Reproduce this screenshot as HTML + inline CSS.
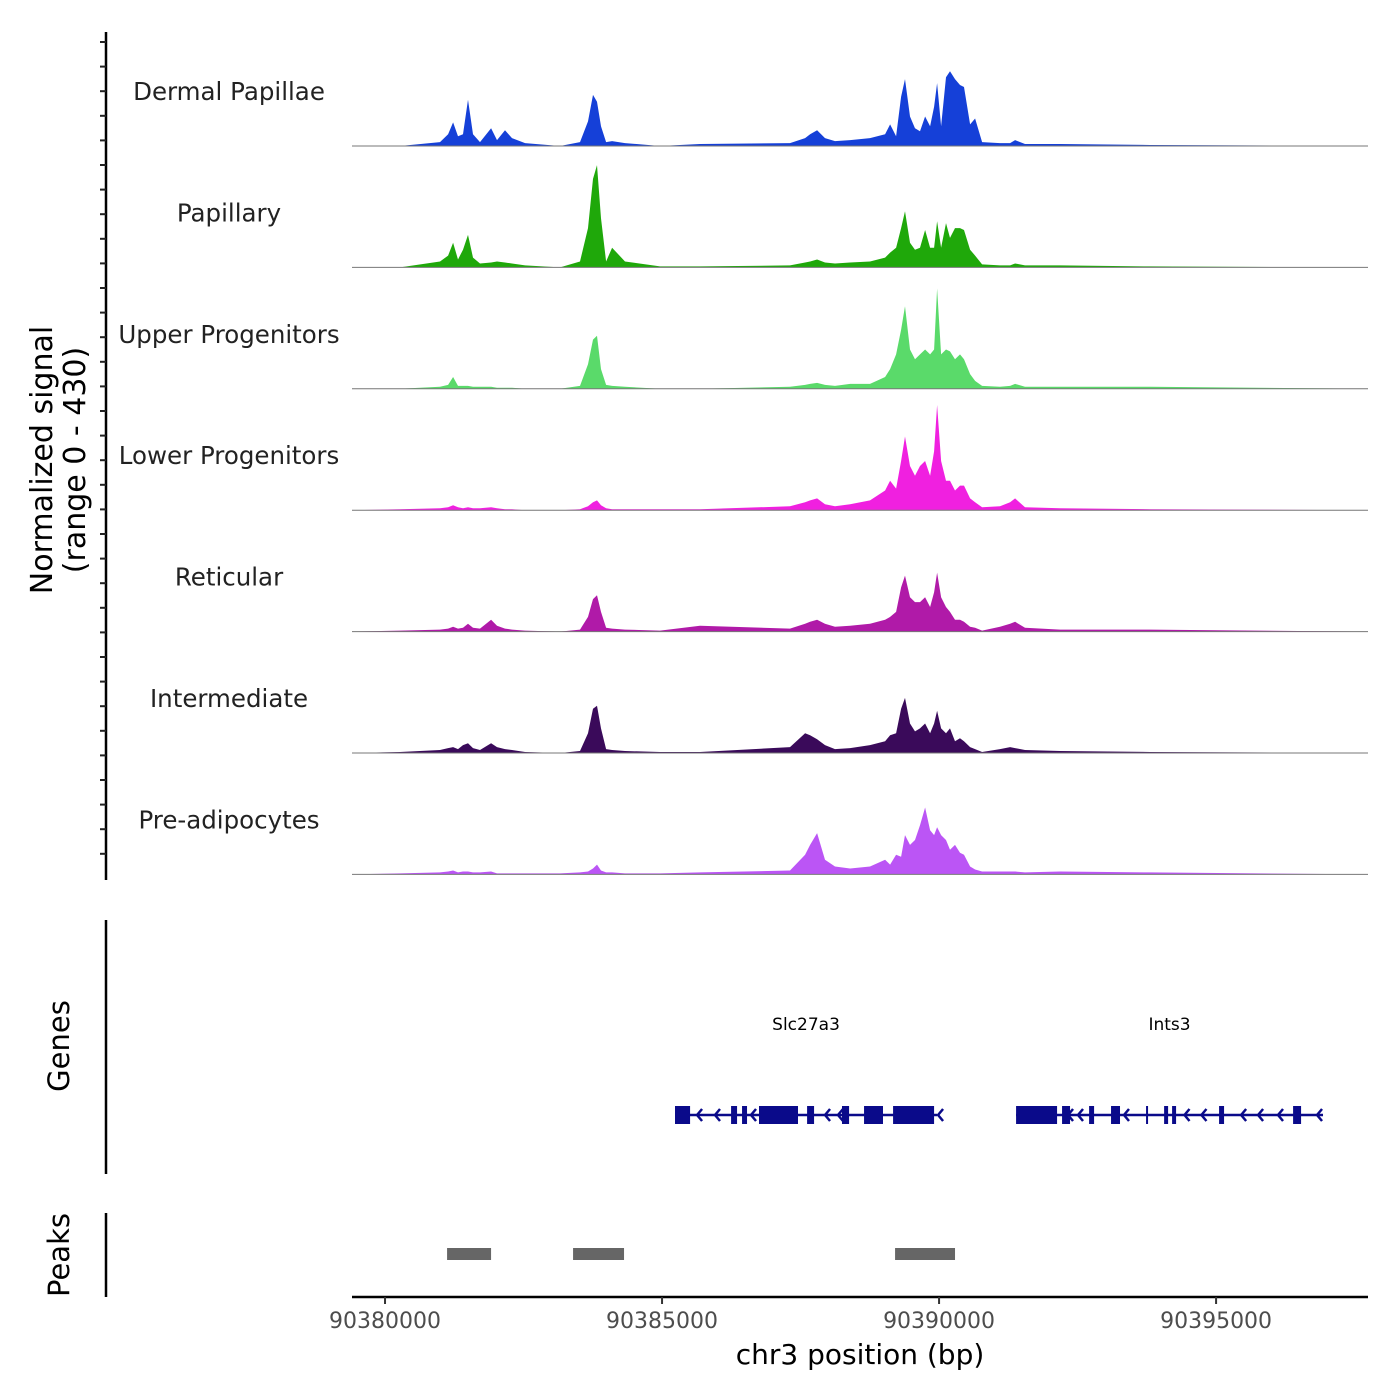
<!DOCTYPE html>
<html><head><meta charset="utf-8">
<style>
html,body{margin:0;padding:0;background:#fff;}
svg{display:block;font-family:"DejaVu Sans","Liberation Sans",sans-serif;}
</style></head>
<body>
<svg id="chart" width="1400" height="1400" viewBox="0 0 1400 1400"></svg>
<script>
// ---- data ----
const startBp = 90380000;
const binBp = 200; // positions below are offsets from startBp in 200-bp units
const positionsBin = [-2.98,1.35,4.96,5.69,6.14,6.59,7.04,7.49,7.94,8.57,9.57,10.11,10.83,11.46,12.64,15.79,17.60,18.32,18.77,19.13,19.49,19.95,20.49,21.66,24.82,28.43,36.55,37.91,38.36,38.99,39.71,40.61,41.97,43.77,45.13,45.58,46.12,46.57,46.93,47.38,47.83,48.28,48.74,49.19,49.55,49.82,50.18,50.63,50.99,51.44,51.89,52.25,52.80,53.25,53.88,55.50,56.41,56.86,57.76,60.92,69.04,88.71];
const trackNames = ["Dermal Papillae","Papillary","Upper Progenitors","Lower Progenitors","Reticular","Intermediate","Pre-adipocytes"];
const trackColors = ["#1540d8","#1fa80a","#5ada6a","#f020e0","#b01aa8","#3a0a5a","#bb55f5"];
const dermal = [0,0,4,12,24,10,12,47,12,4,18,6,16,8,3,0,4,25,52,45,20,4,5,3,0,2,3,8,12,16,8,5,6,8,12,22,10,50,68,30,18,15,30,20,40,64,20,70,76,68,62,60,22,28,4,3,3,6,2,2,1,0];
const papillary = [0,0,6,12,25,8,18,33,10,4,5,6,5,4,2,0,6,40,90,104,50,6,20,6,1,1,2,5,6,8,5,4,5,6,10,15,20,40,57,25,18,20,38,20,20,47,20,45,30,40,40,38,18,12,3,2,2,4,2,2,1,0];
const upper = [0,0,2,4,12,3,3,3,2,2,2,1,1,1,0,0,3,25,50,54,20,4,3,2,0,0,2,4,5,6,4,3,5,5,12,20,35,60,84,40,30,35,40,35,40,102,35,40,38,30,35,30,15,8,3,2,3,5,2,2,2,0];
const lower = [0,1,2,3,5,3,2,3,2,2,3,2,1,1,0,0,1,4,8,10,5,2,1,1,1,1,4,8,10,12,6,4,6,10,20,30,22,50,75,45,35,45,50,35,60,107,50,30,30,20,25,25,12,8,3,4,8,12,3,2,1,0];
const reticular = [0,1,2,3,5,3,4,8,4,3,12,6,3,2,1,0,2,15,33,37,20,4,3,2,1,6,3,8,10,12,8,5,6,8,12,15,20,45,57,35,30,30,35,25,40,60,35,25,20,12,12,10,5,4,1,5,8,10,4,2,2,0];
const intermediate = [0,1,3,5,6,4,8,10,5,3,10,6,4,3,1,0,2,20,45,48,25,4,3,2,1,1,6,20,18,14,8,4,5,8,12,18,20,45,56,30,22,25,30,20,30,43,25,20,25,12,15,12,6,4,1,4,6,5,3,2,1,0];
const preadipo = [0,1,2,3,4,2,3,3,2,2,3,1,1,1,1,1,2,3,6,10,4,2,2,1,1,2,4,20,30,42,15,8,6,8,15,10,20,18,40,30,35,50,68,45,40,48,40,35,25,30,22,20,8,5,3,3,3,3,2,3,2,0];
const series = [dermal,papillary,upper,lower,reticular,intermediate,preadipo];
const xTicksBp = [90380000,90385000,90390000,90395000];
const slcLine = [26.17,49.82];
const slcExons = [[26.17,27.53],[31.23,31.77],[32.22,32.67],[33.75,37.27],[38.09,38.72],[41.24,41.88],[43.23,44.94],[45.85,49.55]];
const slcArrows = [28.16,29.78,33.03,39.71,40.88,49.91];
const intsLine = [56.95,84.65];
const intsExons = [[56.95,60.65],[61.10,61.82],[63.54,63.99],[65.52,66.33],[68.68,68.86],[70.31,70.67],[71.03,71.39],[75.27,75.72],[81.95,82.67]];
const intsArrows = [61.64,62.54,66.69,72.15,73.68,77.26,78.79,80.59,84.11];
const peaksBin = [[5.60,9.57],[16.97,21.57],[46.03,51.44]];
const yMax = 120;

// ---- scales ----
const X0=352, X1=1368, K0=-2.98, K1=88.71;
const xKb = kb => X0 + (kb-K0)*(X1-X0)/(K1-K0);
const xBp = bp => xKb((bp-startBp)/binBp);
const trackH = 121.4, firstBase = 146;
const yVal = v => v*118/yMax;

const svg = document.getElementById('chart');
const NS='http://www.w3.org/2000/svg';
function mk(tag, attrs, parent){const e=document.createElementNS(NS,tag);for(const k in attrs)e.setAttribute(k,attrs[k]);(parent||svg).appendChild(e);return e;}

// tracks
series.forEach((vals,i)=>{
  const base = firstBase + i*trackH;
  let d = `M${xKb(positionsBin[0])},${base}`;
  vals.forEach((v,j)=>{ d += ` L${xKb(positionsBin[j]).toFixed(1)},${(base-yVal(v)).toFixed(1)}`; });
  d += ` L${xKb(positionsBin[positionsBin.length-1])},${base} Z`;
  const p = mk('path',{d:d,fill:trackColors[i],stroke:'none'});
  
  
  const bl = mk('line',{x1:X0,x2:X1,y1:base,y2:base,stroke:'#777','stroke-width':1});
  
  
  const t = mk('text',{x:229,y:base-46,'text-anchor':'middle','font-size':24.5,fill:'#222'});
  t.textContent = trackNames[i];
  
  
});

// left y axis
const ya = mk('line',{x1:106,x2:106,y1:32,y2:880,stroke:'#000','stroke-width':2.5});


for(let y=42;y<=878;y+=24.6){
  const tk = mk('line',{x1:100,x2:106,y1:y,y2:y,stroke:'#222','stroke-width':2});
  
  
}
const yt = mk('text',{transform:'translate(52,460) rotate(-90)','text-anchor':'middle','font-size':30,fill:'#000'});


mk('tspan',{x:0,dy:0},yt).textContent='Normalized signal';
mk('tspan',{x:0,dy:33},yt).textContent='(range 0 - 430)';

// genes panel
const ga = mk('line',{x1:106,x2:106,y1:920,y2:1174,stroke:'#000','stroke-width':2.5});


const gt = mk('text',{transform:'translate(69,1046) rotate(-90)','text-anchor':'middle','font-size':29,fill:'#000'});
gt.textContent='Genes';


const GY=1115, GC='#0a0a8a';
function drawGene(name,line,exons,arrows){
  const g = mk('g',{});
  
  
  mk('line',{x1:xKb(line[0]),x2:xKb(line[1]),y1:GY,y2:GY,stroke:GC,'stroke-width':2.5},g);
  exons.forEach(e=>{ mk('rect',{x:xKb(e[0]),y:GY-9,width:Math.max(2,xKb(e[1])-xKb(e[0])),height:18,fill:GC},g); });
  arrows.forEach(a=>{ const x=xKb(a); mk('path',{d:`M${x+5},${GY-6} L${x},${GY} L${x+5},${GY+6}`,fill:'none',stroke:GC,'stroke-width':2.5},g); });
  const lbl = mk('text',{x:(xKb(line[0])+xKb(line[1]))/2,y:1030,'text-anchor':'middle','font-size':17,fill:'#000'});
  lbl.textContent=name;
  
  
}
drawGene('Slc27a3',slcLine,slcExons,slcArrows);
drawGene('Ints3',intsLine,intsExons,intsArrows);

// peaks panel
const pa = mk('line',{x1:106,x2:106,y1:1213,y2:1297,stroke:'#000','stroke-width':2.5});


const pt = mk('text',{transform:'translate(69,1255) rotate(-90)','text-anchor':'middle','font-size':29,fill:'#000'});
pt.textContent='Peaks';


peaksBin.forEach(p=>{
  const r = mk('rect',{x:xKb(p[0]),y:1248,width:xKb(p[1])-xKb(p[0]),height:12,fill:'#666'});
  
  
});

// x axis
const xa = mk('line',{x1:X0,x2:X1,y1:1297,y2:1297,stroke:'#000','stroke-width':2.5});


xTicksBp.forEach(b=>{
  const x=xBp(b);
  const tk = mk('line',{x1:x,x2:x,y1:1297,y2:1304,stroke:'#333','stroke-width':2});
  
  
  const tl = mk('text',{x:x,y:1328,'text-anchor':'middle','font-size':22,fill:'#4d4d4d'});
  tl.textContent=String(b);
  
  
});
const xt = mk('text',{x:860,y:1364,'text-anchor':'middle','font-size':28,fill:'#000'});
xt.textContent='chr3 position (bp)';


</script>
</body></html>
